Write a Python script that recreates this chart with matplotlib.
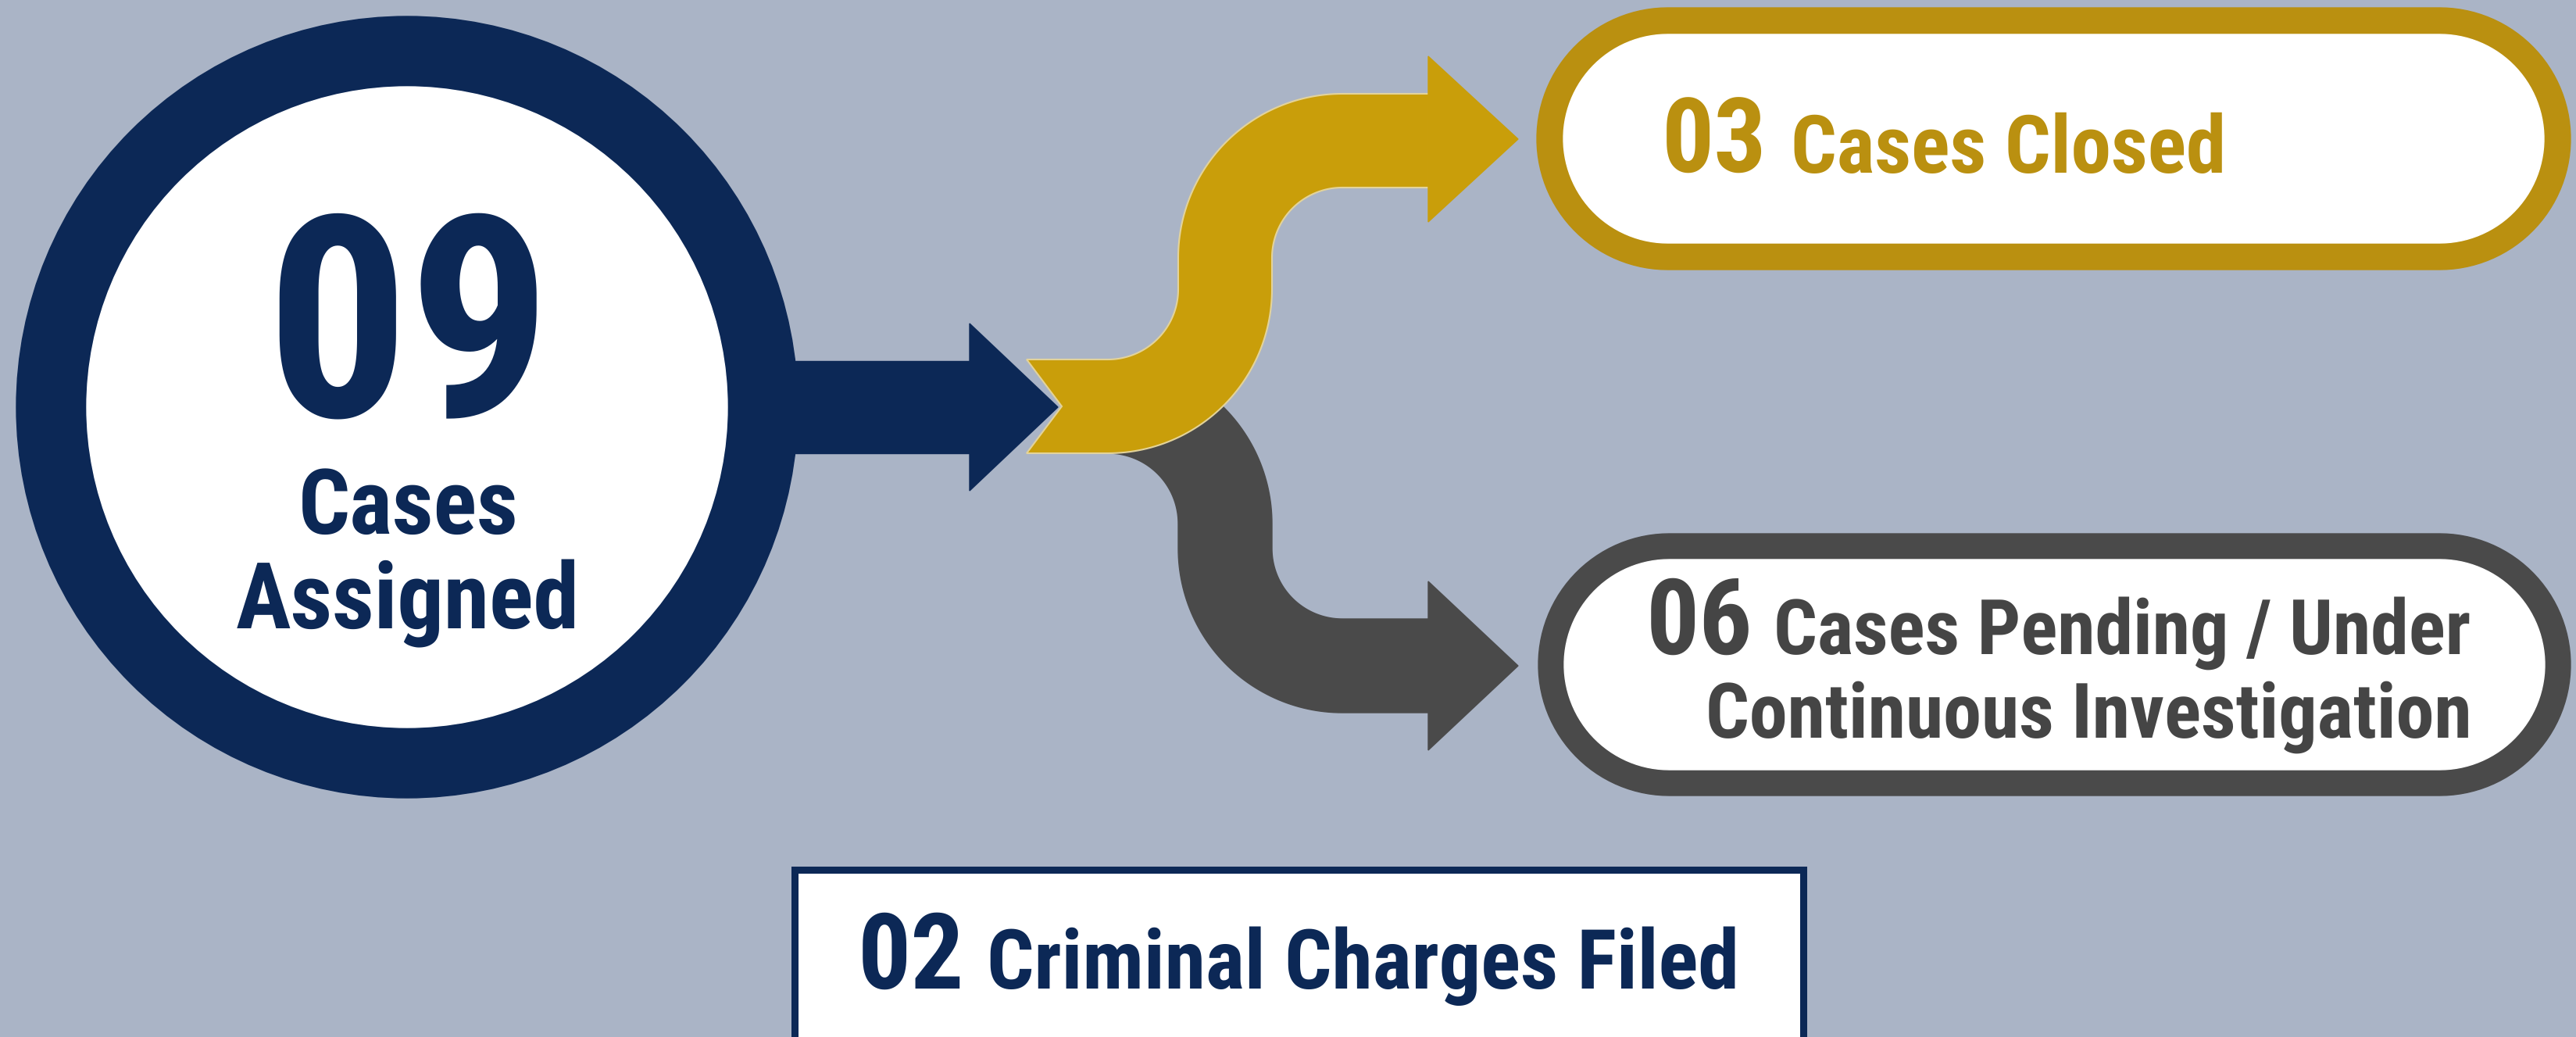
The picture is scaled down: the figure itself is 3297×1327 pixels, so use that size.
"""
Case flow infographic: cases assigned split into closed and pending,
with criminal charges filed shown underneath.
"""

import matplotlib

matplotlib.use("Agg")
import matplotlib.pyplot as plt
import numpy as np
from matplotlib.patches import Circle, Polygon, Rectangle

# big glyphs get spaced out with the default hinting factor
plt.rcParams["text.hinting_factor"] = 1
plt.rcParams["text.hinting"] = "no_hinting"

# Figure values
assigned_count = "09"
assigned_label = ["Cases", "Assigned"]
closed_count = "03"
closed_label = "Cases Closed"
pending_count = "06"
pending_label = ["Cases Pending / Under", "Continuous Investigation"]
charges_count = "02"
charges_label = "Criminal Charges Filed"

# Colours
BG = "#AAB4C6"
NAVY = "#0C2856"
GOLD = "#C99E0A"
GOLD_TEXT = "#BA9010"
GRAY = "#4A4A4A"
GRAY_TEXT = "#454545"

W, H = 3297, 1327
FONT = "Roboto Condensed"


def arc(cx, cy, r, a0, a1, n=60):
    t = np.radians(np.linspace(a0, a1, n))
    return np.column_stack([cx + r * np.cos(t), cy + r * np.sin(t)])


def pill(x0, y0, x1, y1):
    """Stadium shape with fully rounded left and right ends."""
    r = (y1 - y0) / 2
    cy = (y0 + y1) / 2
    return np.vstack([arc(x1 - r, cy, r, -90, 90), arc(x0 + r, cy, r, 90, 270)])


def band_polygon(center, half, notch=0.0):
    """Offset a centre line to both sides, optionally with a notched tail."""
    d = np.gradient(center, axis=0)
    d /= np.linalg.norm(d, axis=1)[:, None]
    n = np.column_stack([-d[:, 1], d[:, 0]])
    a = center + half * n
    b = center - half * n
    pts = [a, b[::-1]]
    if notch:
        pts.append([center[0] + notch * d[0]])
    return np.vstack(pts)


def head(base, half, length):
    x, y = base
    return [(x, y - half), (x + length, y), (x, y + half)]


def fit_text(ax, x0, x1, y, s, size, color, zorder=8):
    """Place bold text on baseline y, resized so it spans x0..x1 (within limits)."""
    t = ax.text(x0, y, s, fontsize=size, color=color, fontweight="bold",
                family=FONT, ha="left", va="baseline", zorder=zorder)
    r = ax.figure.canvas.get_renderer()
    w = t.get_window_extent(r).width
    new = size * (x1 - x0) / w
    t.set_fontsize(float(np.clip(new, size * 0.85, size * 1.15)))
    return t


def main():
    fig = plt.figure(figsize=(W / 100, H / 100), dpi=100, facecolor=BG)
    ax = fig.add_axes([0, 0, 1, 1])
    ax.set_xlim(0, W)
    ax.set_ylim(H, 0)
    ax.axis("off")
    ax.set_facecolor(BG)

    # Navy connector arrow out of the circle
    ax.add_patch(Rectangle((521, 462), 1241 - 521, 118, color=NAVY, zorder=2))
    ax.add_patch(Polygon(head((1241, 521), 107, 113), color=NAVY, zorder=2))

    # Gray branch (down) drawn under the gold one
    gray_line = np.vstack([
        [[1380, 520]],
        arc(1418, 670, 150, -90, 0),
        arc(1718, 702, 150, 180, 90),
        [[1829, 852]],
    ])
    ax.add_patch(Polygon(band_polygon(gray_line, 60), color=GRAY, zorder=3))
    ax.add_patch(Polygon(head((1828, 852), 108, 115), color=GRAY, zorder=3))

    # Gold branch (up) with notched tail
    gold_line = np.vstack([
        [[1314, 520]],
        arc(1418, 370, 150, 90, 0),
        arc(1718, 330, 150, 180, 270),
        [[1829, 180]],
    ])
    ax.add_patch(Polygon(band_polygon(gold_line, 60, notch=45), facecolor=GOLD,
                         edgecolor="#E3D39A", lw=1.5, zorder=4))
    ax.add_patch(Polygon(head((1828, 178), 106, 115), color=GOLD, zorder=4))

    # Big circle
    ax.add_patch(Circle((521, 521), 500, color=NAVY, zorder=5))
    ax.add_patch(Circle((521, 521), 410, color="white", zorder=6))
    fit_text(ax, 340, 705, 532, assigned_count, 250, NAVY)
    fit_text(ax, 382, 663, 683, assigned_label[0], 86, NAVY)
    fit_text(ax, 302, 740, 804, assigned_label[1], 88, NAVY)

    # Closed pill
    ax.add_patch(Polygon(pill(1967, 10, 3290, 345), color=GOLD_TEXT, zorder=2))
    ax.add_patch(Polygon(pill(2001, 44, 3256, 311), color="white", zorder=3))
    fit_text(ax, 2127, 2261, 221, closed_count, 91, GOLD_TEXT)
    fit_text(ax, 2292, 2849, 221, closed_label, 78, GOLD_TEXT)

    # Pending pill
    ax.add_patch(Polygon(pill(1969, 683, 3290, 1018), color=GRAY, zorder=2))
    ax.add_patch(Polygon(pill(2002, 716, 3257, 985), color="white", zorder=3))
    fit_text(ax, 2107, 2243, 837, pending_count, 88, GRAY_TEXT)
    fit_text(ax, 2270, 3163, 837, pending_label[0], 71, GRAY_TEXT)
    fit_text(ax, 2183, 3163, 944, pending_label[1], 75, GRAY_TEXT)

    # Charges box
    ax.add_patch(Rectangle((1017, 1113), 2308 - 1017, 300, facecolor="white",
                           edgecolor=NAVY, lw=6.5, zorder=2))
    fit_text(ax, 1098, 1234, 1265, charges_count, 91, NAVY)
    fit_text(ax, 1263, 2230, 1265, charges_label, 81, NAVY)

    fig.savefig("out.png", dpi=100, facecolor=BG)
    plt.close(fig)


if __name__ == "__main__":
    main()
